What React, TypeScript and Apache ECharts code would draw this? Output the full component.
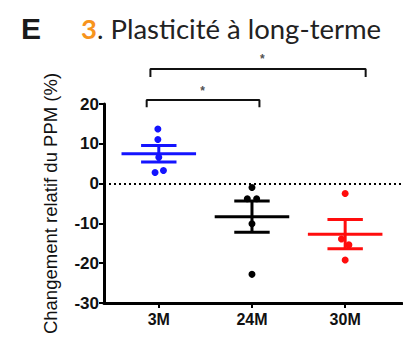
import React, { useEffect, useRef } from "react";
import * as echarts from "echarts";

const categories = ["3M", "24M", "30M"];
const groupColors = ["#1414ff", "#000000", "#ff0d0d"];

// individual points [x position, value]
const points3M: number[][] = [
  [0.99, 13.7],
  [0.99, 11.1],
  [1.0, 6.6],
  [0.96, 2.8],
  [1.05, 3.3],
];
const points24M: number[][] = [
  [2.0, -1.0],
  [1.95, -3.8],
  [2.05, -3.8],
  [2.0, -10.1],
  [2.0, -22.8],
];
const points30M: number[][] = [
  [3.0, -2.5],
  [2.96, -13.9],
  [3.04, -15.4],
  [3.0, -19.2],
];

const groupMeans = [7.5, -8.3, -12.7];
const groupSems = [2.1, 3.9, 3.7];

// significance brackets
const bracketLow: number[][] = [
  [0.87, 19.2],
  [0.87, 21.0],
  [2.08, 21.0],
  [2.08, 19.2],
];
const bracketHigh: number[][] = [
  [0.91, 26.8],
  [0.91, 28.8],
  [3.22, 28.8],
  [3.22, 26.8],
];
const stars: number[][] = [
  [1.47, 23.2],
  [2.11, 31.4],
];

const yTicks = [-30, -20, -10, 0, 10, 20];

export default function App() {
  const ref = useRef<HTMLDivElement>(null);
  useEffect(() => {
    if (!ref.current) return;
    const chart = echarts.init(ref.current, null, { renderer: "svg" });
    const font = "Liberation Sans, Arial, sans-serif";
    const pointSeries = [points3M, points24M, points30M].map((pts, i) => ({
      type: "scatter",
      data: pts,
      symbol: "circle",
      symbolSize: 7,
      itemStyle: { color: groupColors[i], opacity: 1 },
      z: 3,
    }));
    chart.setOption({
      animation: false,
      title: [
        {
          text: "E",
          left: 16,
          top: 8,
          textStyle: { fontFamily: font, fontWeight: "bold", fontSize: 30, color: "#1a1a1a" },
        },
        {
          text: "{o|3}. Plasticité à long-terme",
          left: 76,
          top: 9,
          textStyle: {
            fontFamily: "Lato",
            fontWeight: "normal",
            fontSize: 27.5,
            color: "#222",
            rich: {
              o: { fontFamily: "Lato", fontSize: 27.5, fontWeight: "bold", color: "#f7941d" },
            },
          },
        },
      ],
      grid: { left: 104, right: 1, top: 104, bottom: 43 },
      xAxis: {
        type: "value",
        min: 0.412,
        max: 3.61,
        splitLine: { show: false },
        axisLine: { show: true, onZero: false, lineStyle: { color: "#000", width: 3 } },
        axisTick: { show: true, customValues: [1, 2, 3], length: 5, lineStyle: { color: "#000", width: 2 } },
        axisLabel: {
          customValues: [1, 2, 3],
          formatter: (v: number) => categories[Math.round(v) - 1] ?? "",
          fontFamily: font,
          fontWeight: "bold",
          fontSize: 16,
          color: "#111",
          margin: 8,
        },
      },
      yAxis: {
        type: "value",
        min: -30,
        max: 20,
        interval: 10,
        name: "Changement relatif du PPM (%)",
        nameLocation: "middle",
        nameGap: 44,
        nameTextStyle: { fontFamily: font, fontSize: 18.5, color: "#111" },
        splitLine: { show: false },
        axisLine: { show: true, lineStyle: { color: "#000", width: 3 } },
        axisTick: { show: true, length: 5, lineStyle: { color: "#000", width: 2 } },
        axisLabel: {
          fontFamily: font,
          fontWeight: "bold",
          fontSize: 17,
          color: "#111",
          margin: 5,
          formatter: (v: number) => (yTicks.includes(v) ? String(v) : ""),
        },
      },
      series: [
        ...pointSeries,
        {
          type: "custom",
          data: groupMeans.map((m, i) => [i + 1, m, groupSems[i], i]),
          z: 4,
          renderItem: (params: any, api: any) => {
            const x = api.value(0);
            const m = api.value(1);
            const s = api.value(2);
            const c = groupColors[api.value(3)];
            const st = { stroke: c, lineWidth: 3 };
            const pL = api.coord([x - 0.4, m]);
            const pR = api.coord([x + 0.4, m]);
            const tL = api.coord([x - 0.19, m + s]);
            const tR = api.coord([x + 0.19, m + s]);
            const bL = api.coord([x - 0.19, m - s]);
            const bR = api.coord([x + 0.19, m - s]);
            const vt = api.coord([x, m + s]);
            const vb = api.coord([x, m - s]);
            return {
              type: "group",
              children: [
                { type: "line", shape: { x1: pL[0], y1: pL[1], x2: pR[0], y2: pR[1] }, style: st },
                { type: "line", shape: { x1: tL[0], y1: tL[1], x2: tR[0], y2: tR[1] }, style: st },
                { type: "line", shape: { x1: bL[0], y1: bL[1], x2: bR[0], y2: bR[1] }, style: st },
                { type: "line", shape: { x1: vt[0], y1: vt[1], x2: vb[0], y2: vb[1] }, style: st },
              ],
            };
          },
        },
        {
          type: "line",
          data: bracketLow,
          symbol: "none",
          clip: false,
          lineStyle: { color: "#111", width: 2 },
          z: 2,
          markLine: {
            silent: true,
            symbol: "none",
            label: { show: false },
            lineStyle: { color: "#000", type: [2, 3], width: 1.8 },
            data: [{ yAxis: 0 }],
          },
        },
        {
          type: "line",
          data: bracketHigh,
          symbol: "none",
          clip: false,
          lineStyle: { color: "#111", width: 2 },
          z: 2,
        },
        {
          type: "scatter",
          data: stars,
          clip: false,
          symbol: "circle",
          symbolSize: 1,
          itemStyle: { color: "rgba(0,0,0,0)" },
          label: {
            show: true,
            position: "inside",
            formatter: "*",
            fontFamily: font,
            fontSize: 12,
            fontWeight: "bold",
            color: "#222",
          },
        },
      ],
    });
    return () => chart.dispose();
  }, []);
  return <div ref={ref} style={{ width: 403, height: 346, position: "absolute", left: 0, top: 0 }} />;
}
